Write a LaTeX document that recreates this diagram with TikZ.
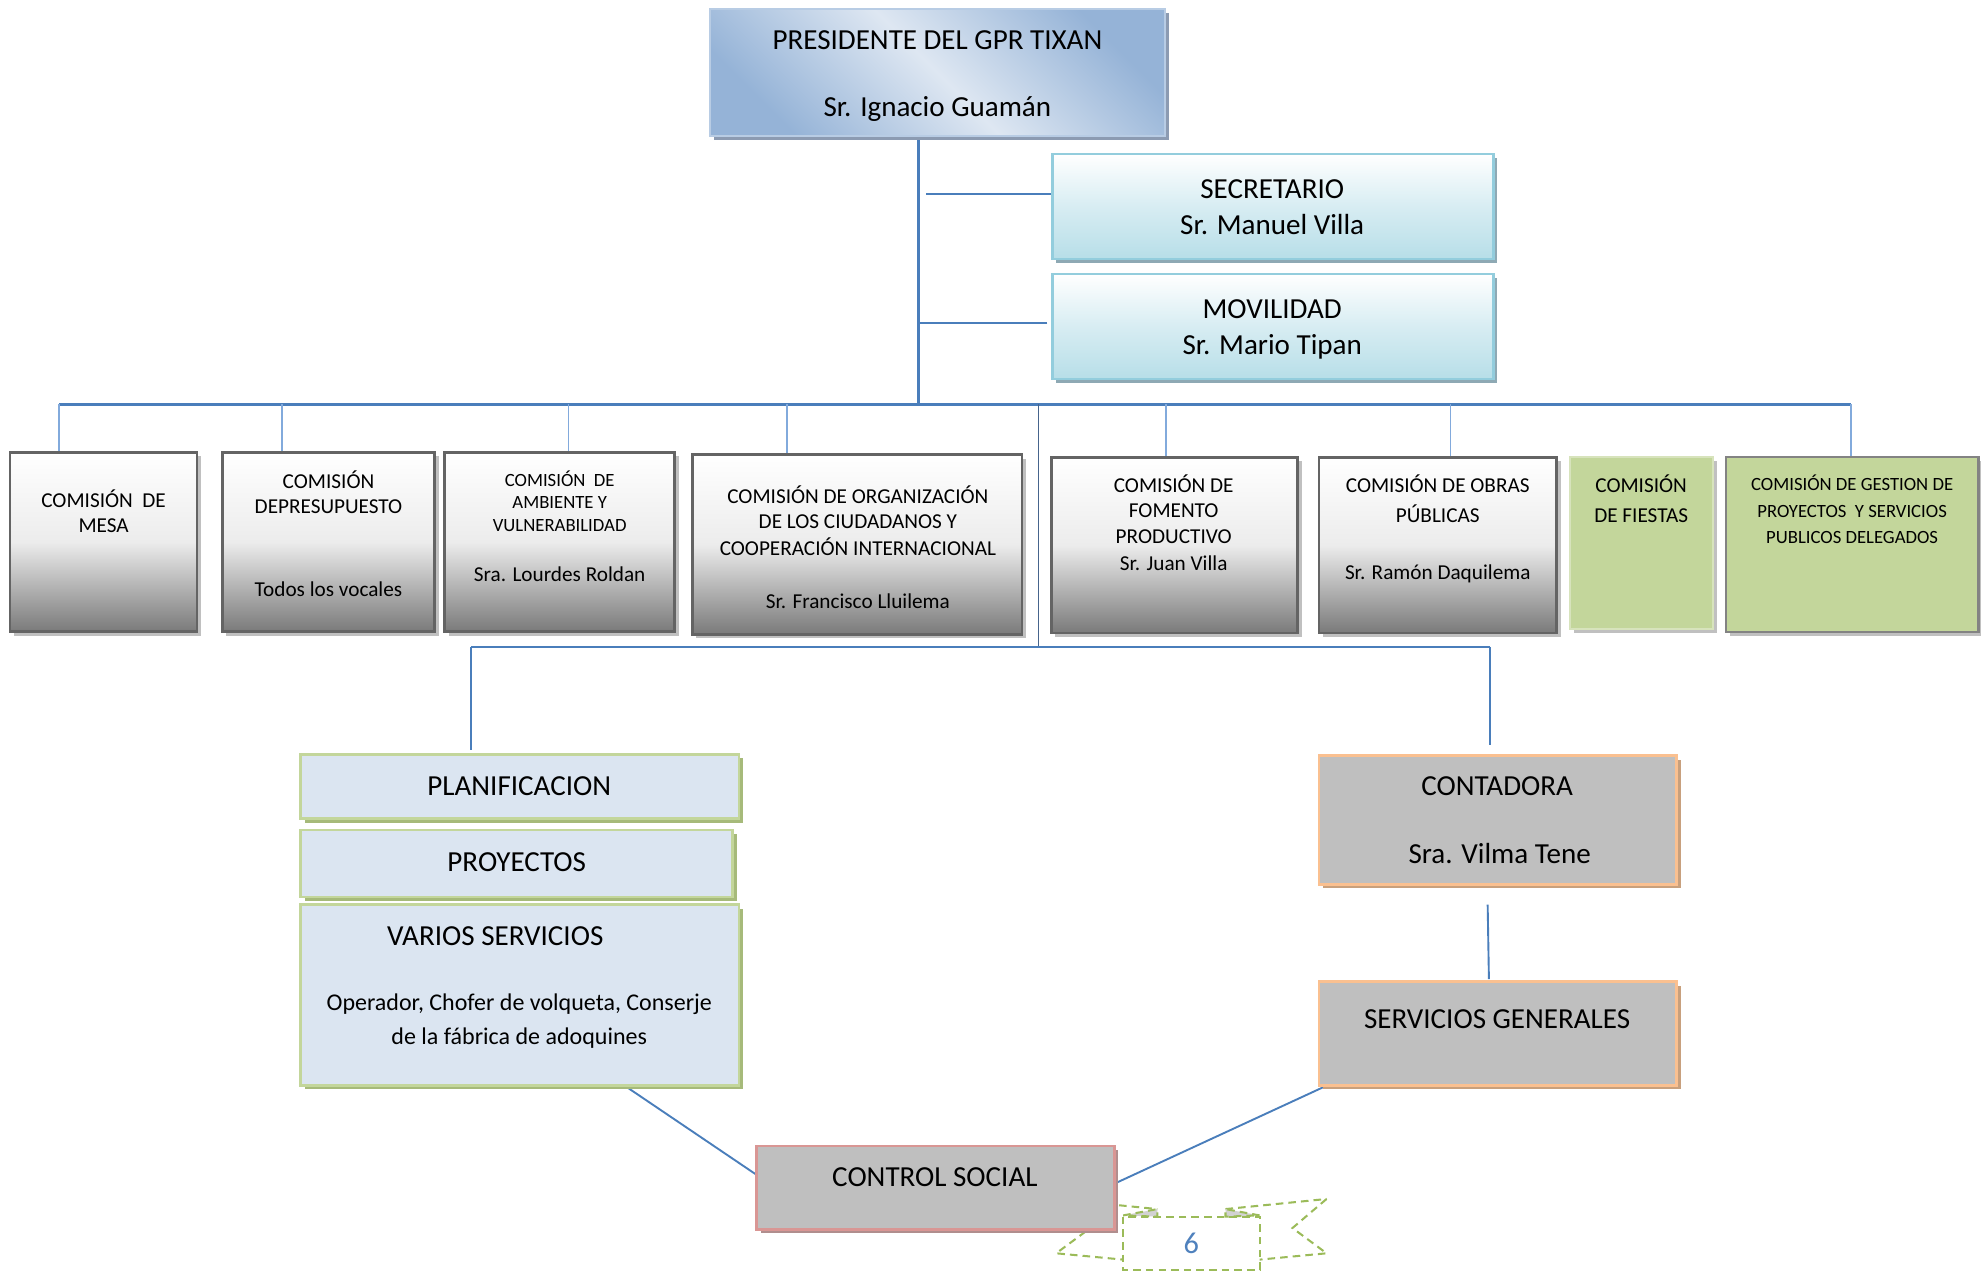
\documentclass[tikz,border=0pt]{standalone}
\usepackage{fontspec}
\setmainfont{Carlito}
\usetikzlibrary{shadows,calc}
\pgfdeclarelayer{background}
\pgfsetlayers{background,main}
\definecolor{presDark}{RGB}{149,179,215}
\definecolor{presLight}{RGB}{222,231,242}
\definecolor{presBorder}{RGB}{184,204,228}
\definecolor{presShadow}{RGB}{140,155,178}
\definecolor{cyanBot}{RGB}{183,222,232}
\definecolor{cyanBorder}{RGB}{147,205,221}
\definecolor{cyanShadow}{RGB}{142,169,180}
\definecolor{gMid}{RGB}{236,236,236}
\definecolor{gBot}{RGB}{122,122,122}
\definecolor{gBorder}{RGB}{100,100,100}
\definecolor{gShadow}{RGB}{192,192,192}
\definecolor{grn}{RGB}{195,214,155}
\definecolor{grnLight}{RGB}{215,227,188}
\definecolor{planFill}{RGB}{219,229,241}
\definecolor{planShadow}{RGB}{166,186,122}
\definecolor{contFill}{RGB}{191,191,191}
\definecolor{contBorder}{RGB}{250,192,144}
\definecolor{contShadow}{RGB}{200,160,125}
\definecolor{csBorder}{RGB}{217,150,148}
\definecolor{csShadow}{RGB}{176,142,142}
\definecolor{connBlue}{RGB}{74,126,187}
\definecolor{dropBlue}{RGB}{130,170,220}
\definecolor{darkLine}{RGB}{70,100,140}
\definecolor{ribGreen}{RGB}{155,187,89}
\definecolor{ribGray}{RGB}{210,210,210}
\definecolor{pageBlue}{RGB}{79,129,189}
\newcommand\mkbox[6]{%
  \node[#2, minimum width={(#5-#3)*0.5pt}, minimum height={(#6-#4)*0.5pt}] (#1) at ({(#3+#5)/2},{(#4+#6)/2}) {};}
\newcommand\tx[5]{\node[#2] (#1) at (#3,#4) {#5};}
\begin{document}
\begin{tikzpicture}[x=0.5pt,y=-0.5pt,
  box/.style={rectangle, inner sep=0pt, outer sep=0pt},
  shad/.style={drop shadow={shadow xshift=1.6pt, shadow yshift=-1.6pt, fill=#1, opacity=1}},
  presbox/.style={box, draw=presBorder, line width=0.8pt, top color=presDark, bottom color=presDark, middle color=presLight, shading angle=-45, shad=presShadow},
  cyanbox/.style={box, draw=cyanBorder, line width=1pt, top color=white, bottom color=cyanBot, middle color=cyanBot!55!white, shad=cyanShadow},
  graybox/.style={box, draw=gBorder, line width=1.1pt, top color=white, bottom color=gBot, middle color=gMid, shad=gShadow},
  grnbox/.style={box, fill=grn, draw=#1, line width=0.8pt, shad=gShadow},
  planbox/.style={box, fill=planFill, draw=grn, line width=1.1pt, shad=planShadow},
  contbox/.style={box, fill=contFill, draw=contBorder, line width=1.1pt, shad=contShadow},
  csbox/.style={box, fill=contFill, draw=csBorder, line width=1.1pt, shad=csShadow},
  txt/.style={inner sep=0pt, outer sep=0pt, text height=0.644em, text depth=0pt, yshift=-1pt},
  tl/.style={txt, font=\fontsize{11.5}{13}\selectfont},
  tn/.style={txt, font=\fontsize{9.5}{11}\selectfont},
  tm/.style={txt, font=\fontsize{8.4}{10}\selectfont},
  ts/.style={txt, font=\fontsize{7.4}{9}\selectfont},
  conn/.style={draw=connBlue, line width=0.75pt},
  busline/.style={draw=connBlue, line width=1.3pt},
  dropline/.style={draw=dropBlue, line width=0.7pt},
  midline/.style={draw=darkLine, line width=0.5pt},
  rib/.style={draw=ribGreen, line width=0.8pt, dash pattern=on 3pt off 2pt}
]
\useasboundingbox (0,0) rectangle (1568,1007);

% ---------- boxes ----------
\mkbox{pres}{presbox}{562}{7}{922}{108}
\mkbox{sec}{cyanbox}{833}{122}{1182}{205}
\mkbox{mov}{cyanbox}{833}{217}{1182}{300}
\mkbox{b1}{graybox}{8}{358}{156}{500}
\mkbox{b2}{graybox}{176}{358}{344}{500}
\mkbox{b3}{graybox}{352}{358}{534}{500}
\mkbox{b4}{graybox}{548}{360}{809}{502}
\mkbox{b5}{graybox}{832}{362}{1027}{501}
\mkbox{b6}{graybox}{1044}{362}{1232}{501}
\mkbox{b7}{grnbox=grnLight}{1243}{362}{1356}{498}
\mkbox{b8}{grnbox=gBorder!80}{1366}{362}{1566}{500}
\mkbox{plan}{planbox}{238}{597}{585}{648}
\mkbox{proy}{planbox}{238}{657}{580}{710}
\mkbox{vs}{planbox}{238}{716}{585}{859}
\mkbox{cont}{contbox}{1044}{598}{1327}{700}
\mkbox{sg}{contbox}{1044}{777}{1327}{859}
\mkbox{cs}{csbox}{599}{907}{882}{973}

% ---------- texts ----------
\tx{p1}{tl}{742}{31}{PRESIDENTE DEL GPR TIXAN}
\tx{p2}{tl}{742}{84}{Sr. Ignacio Guamán}
\tx{s1}{tl}{1007}{149}{SECRETARIO}
\tx{s2}{tl}{1007}{177}{Sr. Manuel Villa}
\tx{m1}{tl}{1007}{244}{MOVILIDAD}
\tx{m2}{tl}{1007}{272}{Sr. Mario Tipan}

\tx{b1a}{tm}{82}{393}{COMISIÓN\ \ DE}
\tx{b1b}{tm}{82}{413}{MESA}
\tx{b2a}{tm}{260}{378}{COMISIÓN}
\tx{b2b}{tm}{260}{398}{DEPRESUPUESTO}
\tx{b2c}{tm}{260}{464}{Todos los vocales}
\tx{b3a}{ts}{443}{377}{COMISIÓN\ \ DE}
\tx{b3b}{ts}{443}{394}{AMBIENTE Y}
\tx{b3c}{ts}{443}{412}{VULNERABILIDAD}
\tx{b3d}{tm}{443}{452}{Sra. Lourdes Roldan}
\tx{b4a}{tm}{679}{390}{COMISIÓN DE ORGANIZACIÓN}
\tx{b4b}{tm}{679}{410}{DE LOS CIUDADANOS Y}
\tx{b4c}{tm}{679}{431}{COOPERACIÓN INTERNACIONAL}
\tx{b4d}{tm}{679}{473}{Sr. Francisco Lluilema}
\tx{b5a}{tm}{929}{381}{COMISIÓN DE}
\tx{b5b}{tm}{929}{401}{FOMENTO}
\tx{b5c}{tm}{929}{422}{PRODUCTIVO}
\tx{b5d}{tm}{929}{443}{Sr. Juan Villa}
\tx{b6a}{tm}{1138}{381}{COMISIÓN DE OBRAS}
\tx{b6b}{tm}{1138}{405}{PÚBLICAS}
\tx{b6c}{tm}{1138}{450}{Sr. Ramón Daquilema}
\tx{b7a}{tm}{1299}{381}{COMISIÓN}
\tx{b7b}{tm}{1299}{405}{DE FIESTAS}
\tx{b8a}{ts}{1466}{380}{COMISIÓN DE GESTION DE}
\tx{b8b}{ts}{1466}{401}{PROYECTOS\ \ Y SERVICIOS}
\tx{b8c}{ts}{1466}{422}{PUBLICOS DELEGADOS}

\tx{pl}{tl}{411}{621}{PLANIFICACION}
\tx{pr}{tl}{409}{681}{PROYECTOS}
\tx{v1}{tl}{392}{740}{VARIOS SERVICIOS}
\tx{v2}{tn}{411}{791}{Operador, Chofer de volqueta, Conserje}
\tx{v3}{tn}{411}{818}{de la fábrica de adoquines}
\tx{c1}{tl}{1185}{621}{CONTADORA}
\tx{c2}{tl}{1187}{675}{Sra. Vilma Tene}
\tx{sg1}{tl}{1185}{806}{SERVICIOS GENERALES}
\tx{cs1}{tl}{740}{931}{CONTROL SOCIAL}
\tx{pg}{tl, font=\fontsize{12}{14}\selectfont, text=pageBlue}{943}{984}{6}

% ---------- connectors ----------
\begin{pgfonlayer}{background}
\coordinate (tr) at (727,320);
\coordinate (d1) at (47,320);
\coordinate (d2) at (223,320);
\coordinate (d3) at (450,320);
\coordinate (d4) at (623,320);
\coordinate (dm) at (822,320);
\coordinate (d5) at (923,320);
\coordinate (d6) at (1148,320);
\coordinate (d8) at (1465,320);
\coordinate (lb1) at (373,512);
\coordinate (lb2) at (1179,512);

\draw[conn, line width=0.9pt] (pres.south -| tr) -- (tr);
\draw[conn] ($(sec.west)+(0,-10)$) -- ++(-100,0);
\draw[conn] (mov.west) ++(-4,-2.5) coordinate (mw) -- (mw -| tr);
\draw[busline] (d1) -- (d8);
\draw[dropline] (d1) -- (d1 |- b1.north);
\draw[dropline] (d2) -- (d2 |- b2.north);
\draw[dropline] (d3) -- (d3 |- b3.north);
\draw[dropline] (d4) -- (d4 |- b4.north);
\draw[dropline] (d5) -- (d5 |- b5.north);
\draw[dropline] (d6) -- (d6 |- b6.north);
\draw[dropline] (d8) -- (d8 |- b8.north);
\draw[midline] (dm) -- (dm |- lb1);
\draw[conn] (lb1) -- (lb2);
\draw[conn] (lb1) -- ($(lb1 |- plan.north)+(0,-3)$);
\draw[conn] (lb2) -- ($(lb2 |- cont.north)+(0,-8)$);
\draw[conn] ($(cont.south)+(-8,16)$) -- ($(sg.north)+(-7,-2)$);
\draw[conn] ($(vs.south west)+(253,-2)$) -- ($(cs.west)+(0,-10)$);
\draw[conn] ($(sg.south west)+(11,-2)$) -- ($(cs.east)+(2,-4)$);

% page-number ribbon
\draw[rib] (836,949) -- (916,957);
\draw[rib] (970,957) -- (1050,949);
\draw[rib] (836,949) -- (863,972) -- (836,992) -- (889,997);
\draw[rib] (1050,949) -- (1023,972) -- (1050,992) -- (997,997);
\draw[rib, fill=ribGray] (889,962) -- (916,957) -- (916,963) -- cycle;
\draw[rib, fill=ribGray] (997,962) -- (970,957) -- (970,963) -- cycle;
\draw[rib] (889,963) rectangle (997,1005);
\end{pgfonlayer}
\end{tikzpicture}
\end{document}
